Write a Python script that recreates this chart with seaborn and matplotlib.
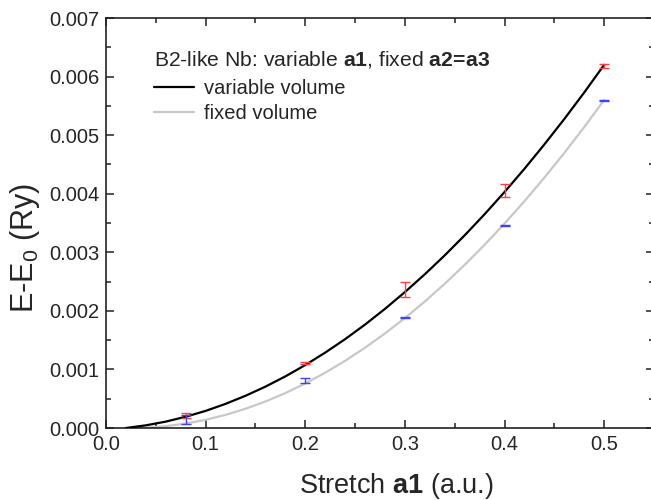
import matplotlib
matplotlib.use("Agg")
import matplotlib.pyplot as plt
import seaborn as sns
import pandas as pd
from matplotlib.lines import Line2D
from matplotlib.ticker import MultipleLocator

# ---- data ----
stretch_pts = [0.08, 0.2, 0.3, 0.4, 0.5]
var_vol_pts = [0.00021, 0.00111, 0.00236, 0.00405, 0.00618]
var_vol_err = [0.00004, 0.00002, 0.00013, 0.00011, 0.00003]
fix_vol_pts = [0.000145, 0.00081, 0.00188, 0.00346, 0.00559]
fix_vol_err = [0.00008, 0.00005, 0.00001, 0.00001, 0.00001]

curve_x_var = [0.02, 0.04, 0.06, 0.08, 0.10, 0.12, 0.14, 0.16, 0.18, 0.20, 0.22, 0.24, 0.26,
               0.28, 0.30, 0.32, 0.34, 0.36, 0.38, 0.40, 0.42, 0.44, 0.46, 0.48, 0.50]
curve_y_var = [0.0, 0.0000453, 0.000109, 0.000192, 0.000292, 0.000412, 0.000550, 0.000706,
               0.000881, 0.001075, 0.001287, 0.001517, 0.001766, 0.002034, 0.002320, 0.002625,
               0.002948, 0.003290, 0.003650, 0.004029, 0.004426, 0.004842, 0.005276, 0.005729,
               0.006201]
curve_x_fix = [0.025, 0.04, 0.06, 0.08, 0.10, 0.12, 0.14, 0.16, 0.18, 0.20, 0.22, 0.24, 0.26,
               0.28, 0.30, 0.32, 0.34, 0.36, 0.38, 0.40, 0.42, 0.44, 0.46, 0.48, 0.50]
curve_y_fix = [0.0, 0.0000056, 0.0000304, 0.0000751, 0.0001396, 0.000224, 0.000328, 0.000452,
               0.000596, 0.000760, 0.000944, 0.001147, 0.001371, 0.001614, 0.001877, 0.002160,
               0.002463, 0.002785, 0.003128, 0.003490, 0.003873, 0.004275, 0.004697, 0.005138,
               0.005600]

legend_title = r"B2-like Nb: variable $\mathbf{a1}$, fixed $\mathbf{a2}\!\mathbf{=}\!\mathbf{a3}$"
series_labels = ["variable volume", "fixed volume"]

# ---- style ----
sns.set_style("white")
plt.rcParams["font.family"] = ["Liberation Sans", "DejaVu Sans"]
plt.rcParams["mathtext.fontset"] = "custom"
plt.rcParams["mathtext.rm"] = "Liberation Sans"
plt.rcParams["mathtext.it"] = "Liberation Sans:italic"
plt.rcParams["mathtext.bf"] = "Liberation Sans:bold"

fig = plt.figure(figsize=(6.51, 5.00), dpi=100)
ax = fig.add_axes([0.1628, 0.144, 0.8418, 0.820])

df_var = pd.DataFrame({"x": curve_x_var, "y": curve_y_var})
df_fix = pd.DataFrame({"x": curve_x_fix, "y": curve_y_fix})
sns.lineplot(data=df_var, x="x", y="y", color="black", lw=1.6, ax=ax, zorder=3)
sns.lineplot(data=df_fix, x="x", y="y", color="#c8c8c8", lw=1.6, ax=ax, zorder=2)

ax.errorbar(stretch_pts, var_vol_pts, yerr=var_vol_err, fmt="none", ecolor="#ff4040",
            elinewidth=1.0, capsize=3.5, capthick=1.0, zorder=4)
ax.errorbar(stretch_pts, fix_vol_pts, yerr=fix_vol_err, fmt="none", ecolor="#4040ff",
            elinewidth=1.0, capsize=3.5, capthick=1.0, zorder=4)

ax.set_xlim(0, 0.55)
ax.set_ylim(0, 0.007)
ax.xaxis.set_major_locator(MultipleLocator(0.1))
ax.xaxis.set_minor_locator(MultipleLocator(0.05))
ax.yaxis.set_major_locator(MultipleLocator(0.001))
ax.yaxis.set_minor_locator(MultipleLocator(0.0005))
ax.xaxis.set_major_formatter(matplotlib.ticker.FormatStrFormatter("%.1f"))
ax.yaxis.set_major_formatter(matplotlib.ticker.FormatStrFormatter("%.3f"))

for s in ax.spines.values():
    s.set_linewidth(1.2)
    s.set_color("#222222")
ax.tick_params(which="both", direction="in", top=True, right=True, bottom=True, left=True,
               color="#222222", width=1.1)
ax.tick_params(which="major", length=6, labelsize=14.5, pad=5)
ax.tick_params(which="minor", length=3.5)

ax.set_xlabel(r"Stretch $\mathbf{a1}$ (a.u.)", fontsize=19.5)
ax.set_ylabel(r"E-E$_\mathregular{0}$ (Ry)", fontsize=22)
ax.xaxis.set_label_coords(0.53, -0.105)
ax.yaxis.set_label_coords(-0.117, 0.44)

handles = [Line2D([], [], color="black", lw=1.6),
           Line2D([], [], color="#c8c8c8", lw=1.6)]
leg = ax.legend(handles, series_labels, title=legend_title, loc="upper left",
                bbox_to_anchor=(0.062, 0.958), frameon=False, fontsize=14.5,
                title_fontsize=15.2, alignment="left", handlelength=2.0,
                handletextpad=0.5, labelspacing=0.3, borderpad=0.2)
leg._legend_box.sep = 6

fig.savefig("out.png", dpi=100)
